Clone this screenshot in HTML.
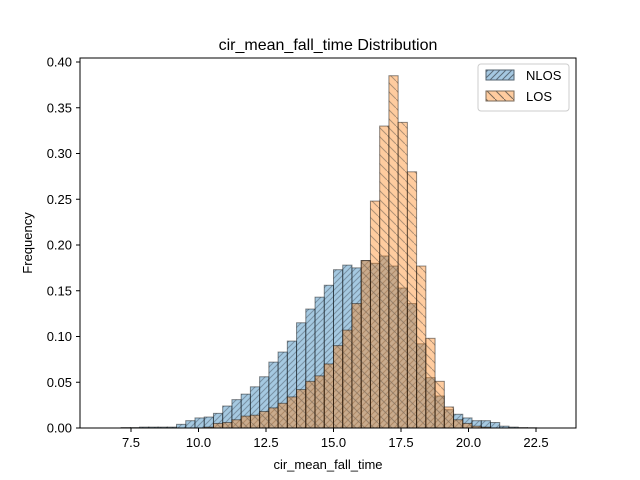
<!DOCTYPE html>
<html><head><meta charset="utf-8"><style>body{margin:0;background:#fff}svg{display:block;font-family:"Liberation Sans","DejaVu Sans",sans-serif}</style></head>
<body>
<svg id="chart" width="640" height="480" viewBox="0 0 640 480" xmlns="http://www.w3.org/2000/svg">
<defs>
<pattern id="hatchN" patternUnits="userSpaceOnUse" width="6" height="6"><path d="M-1,1 l2,-2 M0,6 l6,-6 M5,7 l2,-2" stroke="#5a6b7a" stroke-width="1"/></pattern>
<pattern id="hatchL" patternUnits="userSpaceOnUse" width="9" height="9"><path d="M-1,-1 l2,2 M0,0 l9,9 M8,8 l2,2" stroke="#7a6a5a" stroke-width="1"/></pattern>
</defs>
<rect width="640" height="480" fill="#fff"/>
<text x="328" y="50" text-anchor="middle" font-size="16">cir_mean_fall_time Distribution</text>
<g id="bars"></g>
<rect x="80" y="58" width="496" height="370" fill="none" stroke="#000" stroke-width="1"/>
<g id="axes" font-size="13"></g>
<text x="328" y="469" text-anchor="middle" font-size="13">cir_mean_fall_time</text>
<text transform="translate(32,243) rotate(-90)" text-anchor="middle" font-size="13">Frequency</text>
<g>
<rect x="478" y="64" width="91" height="47" rx="3" fill="#fff" fill-opacity="0.8" stroke="#ccc"/>
<g>
<rect x="486" y="70" width="28" height="10" fill="#a5c8e1" stroke="#52616e"/>
<rect x="486" y="70" width="28" height="10" fill="url(#hatchN)"/>
<text x="526" y="80" font-size="13">NLOS</text></g>
<g>
<rect x="486" y="91" width="28" height="10" fill="#ffcc9f" stroke="#7a6a5a"/>
<rect x="486" y="91" width="28" height="10" fill="url(#hatchL)"/>
<text x="526" y="101" font-size="13">LOS</text></g>
</g>
</svg>
<script>
const binStart = 6.45;
const binWidth = 0.342;
const nlosValues = [0,0,0.0005,0.0005,0.001,0.001,0.001,0.001,0.004,0.008,0.011,0.012,0.016,0.024,0.031,0.037,0.045,0.056,0.072,0.083,0.095,0.115,0.130,0.143,0.156,0.173,0.178,0.175,0.183,0.180,0.188,0.177,0.153,0.136,0.092,0.055,0.035,0.020,0.015,0.011,0.008,0.008,0.006,0.002,0.001,0.0005,0.0003,0,0,0];
const losValues = [0,0,0,0,0,0,0,0,0,0,0,0.001,0.005,0.006,0.009,0.013,0.014,0.018,0.022,0.027,0.034,0.042,0.051,0.057,0.070,0.090,0.107,0.136,0.183,0.248,0.330,0.385,0.334,0.280,0.177,0.098,0.051,0.023,0.009,0.005,0.002,0.001,0,0,0,0,0,0,0,0];
const xTicks = [7.5,10.0,12.5,15.0,17.5,20.0,22.5];
const yTicks = [0.00,0.05,0.10,0.15,0.20,0.25,0.30,0.35,0.40];

const NS="http://www.w3.org/2000/svg";
function xs(v){return 131+27*(v-7.5);}
function ys(f){return 428-f*915;}
const bars=document.getElementById('bars');
function drawSeries(vals,fill,stroke,pat,name){
  vals.forEach((v,i)=>{
    if(v<=0)return;
    const x0=xs(binStart+i*binWidth), x1=xs(binStart+(i+1)*binWidth);
    const y=ys(v), h=428-y;
    const g=document.createElementNS(NS,'g');
    
    
    const r=document.createElementNS(NS,'rect');
    r.setAttribute('x',x0);r.setAttribute('y',y);r.setAttribute('width',x1-x0);r.setAttribute('height',h);
    r.setAttribute('fill',fill);r.setAttribute('fill-opacity','0.4');
    g.appendChild(r);
    const p=document.createElementNS(NS,'rect');
    p.setAttribute('x',x0);p.setAttribute('y',y);p.setAttribute('width',x1-x0);p.setAttribute('height',h);
    p.setAttribute('fill','url(#'+pat+')');p.setAttribute('fill-opacity','0.6');
    p.setAttribute('stroke',stroke);p.setAttribute('stroke-opacity','0.45');p.setAttribute('stroke-width','1');
    g.appendChild(p);
    bars.appendChild(g);
  });
}
drawSeries(nlosValues,'#1f77b4','#000','hatchN','nlos');
drawSeries(losValues,'#ff7f0e','#000','hatchL','los');
const axes=document.getElementById('axes');
xTicks.forEach(t=>{
  const x=xs(t);
  const l=document.createElementNS(NS,'line');
  l.setAttribute('x1',x);l.setAttribute('x2',x);l.setAttribute('y1',428);l.setAttribute('y2',432);l.setAttribute('stroke','#000');
  
  
  axes.appendChild(l);
  const tx=document.createElementNS(NS,'text');
  tx.setAttribute('x',x);tx.setAttribute('y',447);tx.setAttribute('text-anchor','middle');
  tx.textContent=t.toFixed(1);
  
  
  axes.appendChild(tx);
});
yTicks.forEach(t=>{
  const y=ys(t);
  const l=document.createElementNS(NS,'line');
  l.setAttribute('x1',76);l.setAttribute('x2',80);l.setAttribute('y1',y);l.setAttribute('y2',y);l.setAttribute('stroke','#000');
  
  
  axes.appendChild(l);
  const tx=document.createElementNS(NS,'text');
  tx.setAttribute('x',72);tx.setAttribute('y',y+4.5);tx.setAttribute('text-anchor','end');
  tx.textContent=t.toFixed(2);
  
  
  axes.appendChild(tx);
});
</script>
</body></html>
